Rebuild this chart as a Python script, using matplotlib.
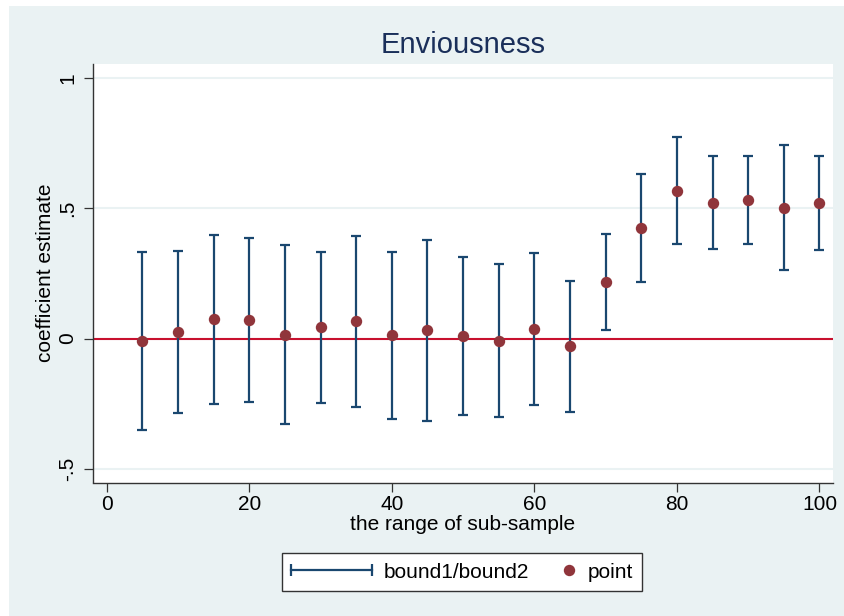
import numpy as np
import matplotlib
matplotlib.use("Agg")
import matplotlib.pyplot as plt
from matplotlib.lines import Line2D
from matplotlib.legend_handler import HandlerLine2D
from matplotlib.patches import Rectangle

plt.rcParams['font.family'] = ['Liberation Sans', 'DejaVu Sans']

# ---- data ----
sample_range = [5, 10, 15, 20, 25, 30, 35, 40, 45, 50, 55, 60, 65, 70, 75, 80, 85, 90, 95, 100]
point = [-0.009, 0.026, 0.074, 0.072, 0.015, 0.044, 0.067, 0.013, 0.033, 0.010,
         -0.009, 0.036, -0.029, 0.218, 0.425, 0.567, 0.521, 0.533, 0.503, 0.521]
bound_upper = [0.333, 0.337, 0.398, 0.388, 0.361, 0.332, 0.394, 0.334, 0.379, 0.314,
               0.286, 0.329, 0.223, 0.403, 0.631, 0.773, 0.700, 0.703, 0.744, 0.703]
bound_lower = [-0.351, -0.285, -0.250, -0.244, -0.328, -0.246, -0.261, -0.310, -0.315, -0.293,
               -0.302, -0.257, -0.281, 0.032, 0.219, 0.364, 0.343, 0.364, 0.263, 0.339]
x_ticks = [0, 20, 40, 60, 80, 100]
x_ticklabels = ['0', '20', '40', '60', '80', '100']
y_ticks = [-0.5, 0, 0.5, 1]
y_ticklabels = ['-.5', '0', '.5', '1']
title = 'Enviousness'
xlabel = 'the range of sub-sample'
ylabel = 'coefficient estimate'

NAVY = '#1a476f'
MAROON = '#90353b'
RED = '#c8102e'
BG = '#eaf2f3'

W, H = 844, 616
fig = plt.figure(figsize=(W / 100, H / 100), dpi=100, facecolor='white')
# outer graph region (light bluish)
fig.patches.append(Rectangle((9 / W, 0), 1, 1 - 6 / H, transform=fig.transFigure,
                             facecolor=BG, edgecolor='none', zorder=-10))

ax = fig.add_axes([93 / W, 1 - 482.5 / H, (833 - 93) / W, (482.5 - 64) / H])
ax.set_facecolor('white')

x = np.array(sample_range)
p = np.array(point)
lo = np.array(bound_lower)
hi = np.array(bound_upper)

ax.errorbar(x, (lo + hi) / 2, yerr=[(lo + hi) / 2 - lo, hi - (lo + hi) / 2], fmt='none',
            ecolor=NAVY, elinewidth=1.6, capsize=3.4, capthick=1.6, zorder=3)
ax.plot(x, p, 'o', color=MAROON, markersize=8.2, markeredgewidth=0, zorder=4)
ax.axhline(0, color=RED, linewidth=1.5, zorder=2)

ax.set_xlim(-1.92, 101.9)
ax.set_ylim(-0.553, 1.055)
ax.set_xticks(x_ticks)
ax.set_xticklabels(x_ticklabels)
ax.set_yticks(y_ticks)
ax.set_yticklabels(y_ticklabels, rotation=90, va='center')
ax.grid(axis='y', color=BG, linewidth=1.5, zorder=0)
ax.set_axisbelow(True)

for s in ['top', 'right']:
    ax.spines[s].set_visible(False)
for s in ['left', 'bottom']:
    ax.spines[s].set_color('#333333')
    ax.spines[s].set_linewidth(1.0)

ax.tick_params(axis='both', colors='#333333', labelcolor='black', labelsize=15,
               length=6.2, width=0.9)
ax.tick_params(axis='x', pad=2.5)
ax.tick_params(axis='y', pad=5)

ax.set_title(title, fontsize=21, color='#1a2f5a', pad=8)
ax.set_xlabel(xlabel, fontsize=15, labelpad=1)
ax.set_ylabel(ylabel, fontsize=15, labelpad=2.5)


class RightMarkerHandler(HandlerLine2D):
    def get_xdata(self, legend, xdescent, ydescent, width, height, fontsize):
        px = width - xdescent - 5
        return np.array([px - 1, px + 1]), np.array([px])


bar_handle = Line2D([], [], color=NAVY, linewidth=1.6, marker='|', markersize=9,
                    markeredgewidth=1.6)
pt_handle = Line2D([], [], color=MAROON, linestyle='none', marker='o', markersize=8.2,
                   markeredgewidth=0)

fs = 15 * 100 / 72  # font size in px
leg = fig.legend([bar_handle, pt_handle], ['bound1/bound2', 'point'],
                 loc='center', bbox_to_anchor=(462 / W, 1 - 572 / H),
                 bbox_transform=fig.transFigure, ncol=2, fontsize=15,
                 frameon=True, fancybox=False, shadow=False,
                 handlelength=81 / fs, handletextpad=12 / fs, columnspacing=-35 / fs,
                 borderpad=0.45, borderaxespad=0,
                 handler_map={bar_handle: HandlerLine2D(numpoints=2, marker_pad=0),
                              pt_handle: RightMarkerHandler()})
leg.get_frame().set_edgecolor('#333333')
leg.get_frame().set_linewidth(1.0)
leg.get_frame().set_facecolor('white')
leg.get_frame().set_alpha(1)

fig.savefig('out.png', dpi=100, facecolor='white')
